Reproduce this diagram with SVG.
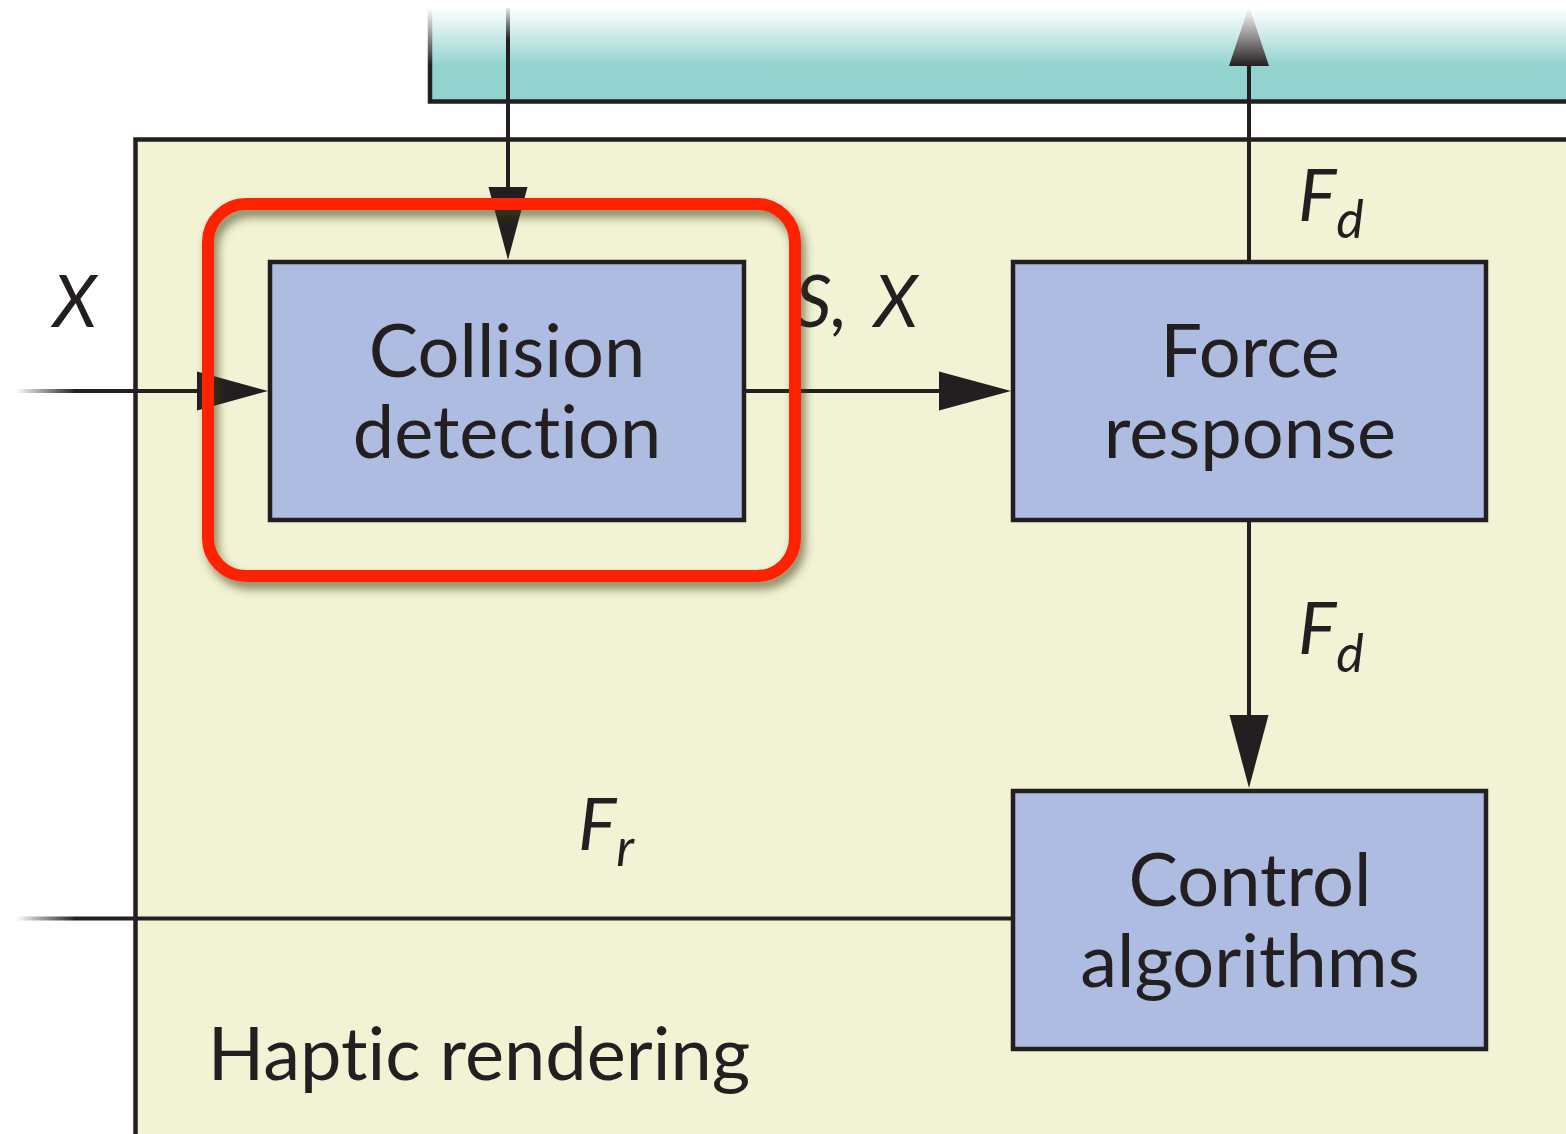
<svg xmlns="http://www.w3.org/2000/svg" width="1566" height="1134" viewBox="0 0 1566 1134">
  <defs>
    <style>
      .ln { stroke: #231F20; stroke-width: 4; fill: none; }
      .box { fill: #ADBCE0; stroke: #231F20; stroke-width: 4.5; }
      .lbl { font-family: "Lato", "Open Sans", "Liberation Sans", sans-serif; font-size: 74px; fill: #231F20; text-anchor: middle; font-variant-ligatures: none; font-feature-settings: "liga" 0, "dlig" 0; }
      .var { font-family: "Lato", "Open Sans", "Liberation Sans", sans-serif; font-style: italic; font-size: 72px; fill: #231F20; }
      .sub { font-size: 52px; }
      .head { fill: #231F20; }
    </style>
    <linearGradient id="fadeTop" gradientUnits="userSpaceOnUse" x1="0" y1="0" x2="0" y2="66">
      <stop offset="0" stop-color="#FFFFFF" stop-opacity="1"/>
      <stop offset="0.12" stop-color="#FFFFFF" stop-opacity="1"/>
      <stop offset="1" stop-color="#FFFFFF" stop-opacity="0"/>
    </linearGradient>
    <linearGradient id="fadeVert" gradientUnits="userSpaceOnUse" x1="0" y1="8" x2="0" y2="40">
      <stop offset="0" stop-color="#231F20" stop-opacity="0.1"/>
      <stop offset="1" stop-color="#231F20" stop-opacity="1"/>
    </linearGradient>
    <linearGradient id="fadeLeft" gradientUnits="userSpaceOnUse" x1="16" y1="0" x2="76" y2="0">
      <stop offset="0" stop-color="#231F20" stop-opacity="0"/>
      <stop offset="1" stop-color="#231F20" stop-opacity="1"/>
    </linearGradient>
    <filter id="shadow" x="-10%" y="-10%" width="125%" height="130%">
      <feDropShadow dx="4" dy="7" stdDeviation="5" flood-color="#3A3A10" flood-opacity="0.6"/>
    </filter>
  </defs>

  <rect width="1566" height="1134" fill="#FFFFFF"/>

  <!-- haptic rendering panel -->
  <g id="haptic-rendering">
    <rect x="135.5" y="139.5" width="1440" height="1010" fill="#F2F2D4" stroke="#231F20" stroke-width="4.5"/>
    <text class="lbl" x="479" y="1080">Haptic rendering</text>
  </g>

  <!-- upper stage (cut off at the top) -->
  <g id="upper-stage">
    <rect x="430" y="-20" width="1150" height="121.5" fill="#93D3CF" stroke="#231F20" stroke-width="4.5"/>
  </g>

  <!-- connectors -->
  <g id="connectors">
    <!-- X input into collision detection -->
    <line x1="16" y1="391" x2="200" y2="391" stroke="url(#fadeLeft)" stroke-width="4"/>
    <polygon class="head" points="197,371.5 268,391 197,410.5"/>
    <!-- S, X to force response -->
    <line class="ln" x1="744" y1="391" x2="942" y2="391"/>
    <polygon class="head" points="939,371.5 1011,391 939,410.5"/>
    <!-- F_d down to control algorithms -->
    <line class="ln" x1="1249" y1="520" x2="1249" y2="718"/>
    <polygon class="head" points="1229.5,715 1249,788 1268.5,715"/>
    <!-- F_d up to upper stage -->
    <line class="ln" x1="1249" y1="262" x2="1249" y2="62"/>
    <polygon class="head" points="1229,66 1249,6 1269,66"/>
    <!-- F_r out of control algorithms -->
    <line x1="16" y1="918.5" x2="1013" y2="918.5" stroke="url(#fadeLeft)" stroke-width="4"/>
    <!-- from upper stage into collision detection -->
    <polygon class="head" points="488.5,187 508,260 527.5,187"/>
  </g>

  <!-- fade of the upper stage into the page -->
  <rect x="400" y="0" width="1166" height="66" fill="url(#fadeTop)"/>
  <line x1="508" y1="8" x2="508" y2="190" stroke="url(#fadeVert)" stroke-width="4"/>

  <!-- blocks -->
  <g id="collision-detection">
    <rect class="box" x="270" y="262" width="474" height="258"/>
    <text class="lbl" x="507" y="377">Collision</text>
    <text class="lbl" x="507" y="458">detection</text>
  </g>
  <g id="force-response">
    <rect class="box" x="1013" y="262" width="473" height="258"/>
    <text class="lbl" x="1250" y="377">Force</text>
    <text class="lbl" x="1250" y="458">response</text>
  </g>
  <g id="control-algorithms">
    <rect class="box" x="1013" y="791" width="473" height="258"/>
    <text class="lbl" x="1250" y="906">Control</text>
    <text class="lbl" x="1250" y="987">algorithms</text>
  </g>

  <!-- signal labels -->
  <g id="labels">
    <text class="var" x="53" y="327">X</text>
    <text class="var" x="795" y="327">S,<tspan x="874">X</tspan></text>
    <text class="var" x="1298" y="221">F<tspan class="sub" dy="17">d</tspan></text>
    <text class="var" x="1298" y="654">F<tspan class="sub" dy="18">d</tspan></text>
    <text class="var" x="578" y="850">F<tspan class="sub" dy="16">r</tspan></text>
  </g>

  <!-- highlight around collision detection -->
  <g id="highlight">
    <rect x="208" y="204" width="587" height="372" rx="38" ry="38" fill="none" stroke="#FF2400" stroke-width="12" filter="url(#shadow)"/>
  </g>
</svg>
